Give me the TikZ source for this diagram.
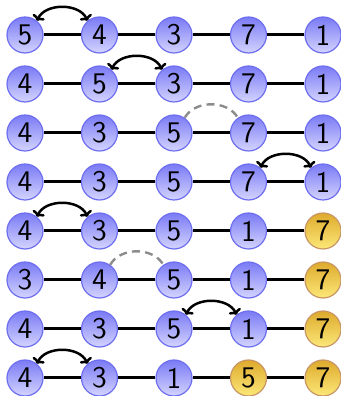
\documentclass[tikz,border=0pt]{standalone}
\usetikzlibrary{arrows.meta}
\definecolor{btop}{RGB}{122,122,245}
\definecolor{bbot}{RGB}{212,212,255}
\definecolor{bborder}{RGB}{110,110,240}
\definecolor{ytop}{RGB}{222,170,45}
\definecolor{ybot}{RGB}{252,232,120}
\definecolor{yborder}{RGB}{200,150,100}
\definecolor{hintgray}{RGB}{140,140,140}
\tikzset{
  circ/.style={circle, draw=#1border, line width=0.6pt, top color=#1top, bottom color=#1bot,
    minimum size=18pt, inner sep=0pt, font=\sffamily\fontsize{15}{18}\selectfont},
  link/.style={line width=1.5pt},
  swap/.style={{To[length=2.6pt,width=6.5pt]}-{To[length=2.6pt,width=6.5pt]}, line width=1.25pt},
  hint/.style={hintgray, line width=1.2pt, dash pattern=on 4pt off 2.6pt}
}
\begin{document}
\begin{tikzpicture}[x=0.5pt,y=0.5pt]
\useasboundingbox (0,0) rectangle (341,396);
\foreach \r/\vals/\ny in {1/{5,4,3,7,1}/0, 2/{4,5,3,7,1}/0, 3/{4,3,5,7,1}/0, 4/{4,3,5,7,1}/0,
                          5/{4,3,5,1,7}/1, 6/{3,4,5,1,7}/1, 7/{4,3,5,1,7}/1, 8/{4,3,1,5,7}/2}{
  \foreach \v [count=\k] in \vals {
    \ifnum\k>\numexpr5-\ny\relax \def\fam{y}\else\def\fam{b}\fi
    \node[circ=\fam] (n\r-\k) at ({25+74.5*(\k-1)}, {396-35-49*(\r-1)}) {\v};
  }
  \foreach \k [evaluate=\k as \kk using int(\k+1)] in {1,...,4}
    \draw[link] (n\r-\k) -- (n\r-\kk);
}
\draw[swap] (n1-1.50) to[out=65,in=115] (n1-2.130);
\draw[swap] (n2-2.50) to[out=65,in=115] (n2-3.130);
\draw[hint] (n3-3.55) to[out=60,in=120] (n3-4.125);
\draw[swap] (n4-4.50) to[out=65,in=115] (n4-5.130);
\draw[swap] (n5-1.50) to[out=65,in=115] (n5-2.130);
\draw[hint] (n6-2.55) to[out=60,in=120] (n6-3.125);
\draw[swap] (n7-3.50) to[out=65,in=115] (n7-4.130);
\draw[swap] (n8-1.50) to[out=65,in=115] (n8-2.130);
\end{tikzpicture}
\end{document}
